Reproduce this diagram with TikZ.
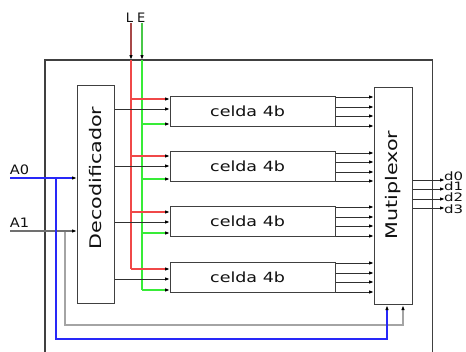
\documentclass[tikz,border=0pt]{standalone}
\usepackage{fontspec}
\setmainfont{DejaVu Sans}
\usetikzlibrary{arrows.meta}
\definecolor{boxc}{HTML}{404040}
\definecolor{wirec}{HTML}{303030}
\definecolor{redin}{HTML}{F04848}
\definecolor{redout}{HTML}{A84848}
\definecolor{grnin}{HTML}{38EC38}
\definecolor{grnout}{HTML}{48C848}
\definecolor{bluew}{HTML}{2828F8}
\definecolor{grayw}{HTML}{707070}
\definecolor{grayl}{HTML}{A4A4A4}
\definecolor{txtc}{HTML}{111111}
\begin{document}
\begin{tikzpicture}[x=1pt,y=-1pt,
  tip/.style={-{Latex[length=5pt,width=3.6pt,color=black]}},
  blk/.style={draw=boxc, line width=1.15pt, fill=white, inner sep=0pt},
  wire/.style={draw=wirec, line width=1pt, tip},
  redw/.style={draw=redin, line width=1.15pt},
  grnw/.style={draw=grnin, line width=1.15pt},
  txt/.style={inner sep=0pt, text=txtc}]
\useasboundingbox (0,0) rectangle (466,351);
\fill[white] (0,0) rectangle (466,351);

% outer box (bottom edge outside the picture)
\coordinate (obl) at (45,352);
\coordinate (obtl) at (45,60);
\coordinate (obtr) at (432.5,60);
\coordinate (obr) at (432.5,352);
\draw[draw=boxc, line width=1.1pt] (obl) -- (obtl) -- (obtr) -- (obr);

% blocks
\node[blk, minimum width=37pt, minimum height=218pt, anchor=north west] (dec) at (77,85) {};
\node[blk, minimum width=38pt, minimum height=217pt, anchor=north west] (mux) at (374,87) {};
\foreach \n/\t in {1/96,2/151,3/206,4/262}
  \node[blk, minimum width=165pt, minimum height=30pt, anchor=north west] (c\n) at (170,\t) {};

% texts
\node[txt, rotate=90] (dect) at (95.5,178) {\scalebox{1.29}[1]{\fontsize{16}{16}\selectfont Decodificador}};
\node[txt, rotate=90] (muxt) at (393,185) {\scalebox{1.29}[1]{\fontsize{16}{16}\selectfont Mutiplexor}};
\foreach \n in {1,...,4}
  \node[txt] (c\n t) at ([xshift=-5.5pt]c\n.center) {\scalebox{1.25}[1]{\fontsize{14}{14}\selectfont celda 4b}};

% L and E inputs
\node[txt] (Lt) at (129.5,17.8) {\fontsize{13}{13}\selectfont L};
\node[txt] (Et) at (141.2,17.8) {\fontsize{13}{13}\selectfont E};
\coordinate (Ltop) at (131,23);
\coordinate (Etop) at (142,23);
\coordinate (Lin) at (131,60);
\coordinate (Ein) at (142,60);
\draw[draw=redout, line width=1.15pt, tip] (Ltop) -- (Lin);
\draw[draw=grnout, line width=1.15pt, tip] (Etop) -- (Ein);
\draw[redw] (Lin) -- (Lin |- 0,269);
\draw[grnw] (Ein) -- (Ein |- 0,290);

\foreach \n/\yy in {1/99,2/156,3/212,4/269}
  \draw[redw, tip] (Lin |- 0,\yy) -- (c\n.west |- 0,\yy);
\foreach \n/\yy in {1/124,2/179,3/233,4/290}
  \draw[grnw, tip] (Ein |- 0,\yy) -- (c\n.west |- 0,\yy);
\foreach \n/\yy in {1/109,2/166,3/222,4/279}
  \draw[wire] (dec.east |- 0,\yy) -- (c\n.west |- 0,\yy);

% cell outputs to multiplexer
\foreach \n/\ya/\yb/\yc/\yd in {1/97/107/116/126, 2/153/162/172/181, 3/207/217/226/236, 4/263/273/282/292}
  \foreach \yy in {\ya,\yb,\yc,\yd}
    \draw[wire] (c\n.east |- 0,\yy) -- (mux.west |- 0,\yy);

% outputs
\foreach \i/\yy/\ty in {0/180/176,1/189/186.5,2/199/197.5,3/208/209}{
  \coordinate (o\i) at (445,\yy);
  \draw[wire] (mux.east |- o\i) -- (o\i);
  \node[txt, anchor=west] (d\i) at (444,\ty) {\scalebox{1.3}[1]{\fontsize{11.5}{11.5}\selectfont d\i}};
}

% A0 and A1
\node[txt] (A0t) at (19.5,170) {\scalebox{1.12}[1]{\fontsize{13}{13}\selectfont A0}};
\node[txt] (A1t) at (19.5,223) {\scalebox{1.12}[1]{\fontsize{13}{13}\selectfont A1}};
\coordinate (a0s) at (10,178);
\coordinate (a1s) at (10,231);
\coordinate (a0b) at (56,178);
\coordinate (a1b) at (65,231);
\draw[draw=grayl, line width=1.15pt, tip] (a1b) -- (65,325) -- (403,325) -- (mux.south -| 403,0);
\draw[draw=grayw, line width=1.15pt, tip] (a1s) -- (dec.west |- a1s);
\draw[draw=bluew, line width=1.15pt, tip] (a0b) -- (56,339) -- (387,339) -- (mux.south -| 387,0);
\draw[draw=bluew, line width=1.15pt, tip] (a0s) -- (dec.west |- a0s);
\end{tikzpicture}
\end{document}
